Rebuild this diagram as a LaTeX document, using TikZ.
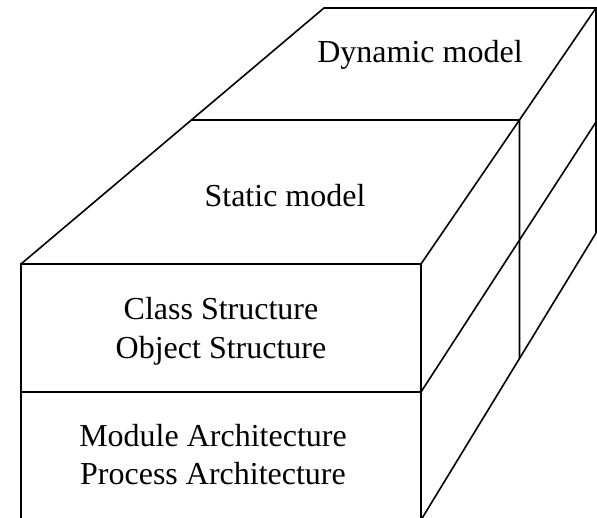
\documentclass[tikz,border=0pt]{standalone}
\usepackage{fontspec}
\setmainfont{Liberation Serif}
\begin{document}
\begin{tikzpicture}[x=1pt,y=1pt,
  edge/.style={line width=1.6pt, line join=miter},
  lbl/.style={anchor=base, inner sep=0pt, font=\fontsize{32}{38.5}\selectfont}]
\useasboundingbox (0,0) rectangle (597,518);
\begin{scope}
\clip (0,0) rectangle (597,518);
% corners
\coordinate (A) at (21,254);
\coordinate (B) at (421,254);
\coordinate (C) at (21,126);
\coordinate (D) at (421,126);
\coordinate (E) at (21,-2);
\coordinate (F) at (421,-2);
\coordinate (G) at (324,510);
\coordinate (H) at (596,510);
\coordinate (K) at (596,396);
\coordinate (L) at (596,285);
\coordinate (I) at (intersection of A--G and 0,398--597,398);
\coordinate (J) at (intersection of B--H and 0,398--597,398);
\coordinate (M) at (intersection of J--[yshift=-100pt]J and F--L);
% front face
\draw[edge] (E) -- (A) -- (B) -- (F);
\draw[edge] (C) -- (D);
% top and side
\draw[edge] (A) -- (G) -- (H) -- (L);
\draw[edge] (B) -- (H);
\draw[edge] (I) -- (J) -- (M);
\draw[edge] (D) -- (K);
\draw[edge] (F) -- (L);
\end{scope}
% labels
\node[lbl] (dyn) at (420,455) {Dynamic model};
\node[lbl] (stat) at (285,311) {Static model};
\node[lbl] (cls) at (221,198) {Class Structure};
\node[lbl] (obj) at (221,159) {Object Structure};
\node[lbl] (mod) at (213,71) {Module Architecture};
\node[lbl] (proc) at (213,33) {Process Architecture};
\end{tikzpicture}
\end{document}
